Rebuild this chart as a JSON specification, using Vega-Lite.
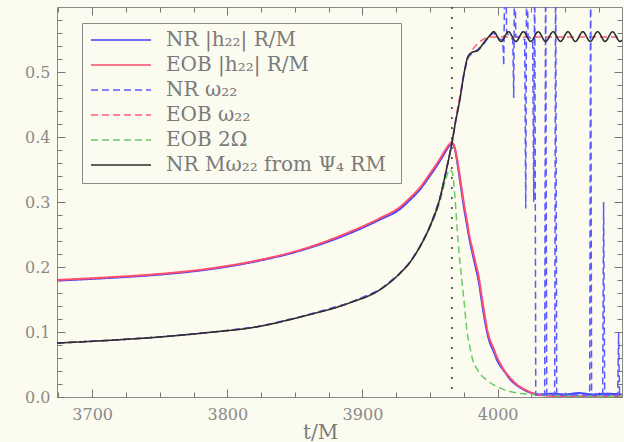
{
 "$schema": "https://vega.github.io/schema/vega-lite/v6.json",
 "width": 565, "height": 390,
 "autosize": {"type": "none"},
 "padding": {"left": 57, "top": 7, "right": 2, "bottom": 45},
 "background": "#fbfbef",
 "config": {
  "view": {"stroke": "#8a8a8a", "strokeWidth": 1},
  "font": "DejaVu Serif",
  "axis": {"domain": false, "ticks": false, "labelFont": "DejaVu Serif", "labelFontSize": 16, "labelColor": "#8a8a8a", "gridColor": "#777777", "gridWidth": 1, "gridOpacity": 1, "titleFont": "DejaVu Serif", "titleColor": "#7a7a7a", "titleFontWeight": "normal", "labelOverlap": false, "labelFlush": false}
 },
 "data": {"values": [
  {"series":"NR |h₂₂| R/M","t":3674.1,"v":0.179},{"series":"NR |h₂₂| R/M","t":3711.1,"v":0.183},{"series":"NR |h₂₂| R/M","t":3748,"v":0.188},{"series":"NR |h₂₂| R/M","t":3785,"v":0.196},{"series":"NR |h₂₂| R/M","t":3822,"v":0.209},{"series":"NR |h₂₂| R/M","t":3853.7,"v":0.225},{"series":"NR |h₂₂| R/M","t":3890.7,"v":0.252},{"series":"NR |h₂₂| R/M","t":3912.9,"v":0.273},{"series":"NR |h₂₂| R/M","t":3927.6,"v":0.289},{"series":"NR |h₂₂| R/M","t":3935,"v":0.303},{"series":"NR |h₂₂| R/M","t":3942.4,"v":0.319},{"series":"NR |h₂₂| R/M","t":3949.8,"v":0.34},{"series":"NR |h₂₂| R/M","t":3957.2,"v":0.363},{"series":"NR |h₂₂| R/M","t":3961.6,"v":0.378},{"series":"NR |h₂₂| R/M","t":3964,"v":0.386},{"series":"NR |h₂₂| R/M","t":3966.1,"v":0.39},{"series":"NR |h₂₂| R/M","t":3968.3,"v":0.382},{"series":"NR |h₂₂| R/M","t":3970.5,"v":0.356},{"series":"NR |h₂₂| R/M","t":3972.7,"v":0.325},{"series":"NR |h₂₂| R/M","t":3974.9,"v":0.294},{"series":"NR |h₂₂| R/M","t":3977.2,"v":0.266},{"series":"NR |h₂₂| R/M","t":3979.4,"v":0.24},{"series":"NR |h₂₂| R/M","t":3981.6,"v":0.219},{"series":"NR |h₂₂| R/M","t":3983.8,"v":0.199},{"series":"NR |h₂₂| R/M","t":3986,"v":0.178},{"series":"NR |h₂₂| R/M","t":3988.2,"v":0.148},{"series":"NR |h₂₂| R/M","t":3990.5,"v":0.118},{"series":"NR |h₂₂| R/M","t":3992.7,"v":0.095},{"series":"NR |h₂₂| R/M","t":3994.9,"v":0.08},{"series":"NR |h₂₂| R/M","t":3997.1,"v":0.07},{"series":"NR |h₂₂| R/M","t":3999.3,"v":0.058},{"series":"NR |h₂₂| R/M","t":4002.3,"v":0.047},{"series":"NR |h₂₂| R/M","t":4005.2,"v":0.039},{"series":"NR |h₂₂| R/M","t":4008.9,"v":0.028},{"series":"NR |h₂₂| R/M","t":4014.9,"v":0.017},{"series":"NR |h₂₂| R/M","t":4021.5,"v":0.009},{"series":"NR |h₂₂| R/M","t":4031.1,"v":0.004},{"series":"NR |h₂₂| R/M","t":4040,"v":0.005},{"series":"NR |h₂₂| R/M","t":4050,"v":0.004},{"series":"NR |h₂₂| R/M","t":4060,"v":0.006},{"series":"NR |h₂₂| R/M","t":4070,"v":0.004},{"series":"NR |h₂₂| R/M","t":4080,"v":0.005},{"series":"NR |h₂₂| R/M","t":4091.7,"v":0.004},

  {"series":"EOB |h₂₂| R/M","t":3674.1,"v":0.18},{"series":"EOB |h₂₂| R/M","t":3711.1,"v":0.184},{"series":"EOB |h₂₂| R/M","t":3748,"v":0.189},{"series":"EOB |h₂₂| R/M","t":3785,"v":0.197},{"series":"EOB |h₂₂| R/M","t":3822,"v":0.21},{"series":"EOB |h₂₂| R/M","t":3853.7,"v":0.226},{"series":"EOB |h₂₂| R/M","t":3890.7,"v":0.254},{"series":"EOB |h₂₂| R/M","t":3912.9,"v":0.275},{"series":"EOB |h₂₂| R/M","t":3927.6,"v":0.292},{"series":"EOB |h₂₂| R/M","t":3935,"v":0.306},{"series":"EOB |h₂₂| R/M","t":3942.4,"v":0.322},{"series":"EOB |h₂₂| R/M","t":3949.8,"v":0.343},{"series":"EOB |h₂₂| R/M","t":3957.2,"v":0.366},{"series":"EOB |h₂₂| R/M","t":3961.6,"v":0.381},{"series":"EOB |h₂₂| R/M","t":3964,"v":0.388},{"series":"EOB |h₂₂| R/M","t":3966.1,"v":0.392},{"series":"EOB |h₂₂| R/M","t":3968.3,"v":0.383},{"series":"EOB |h₂₂| R/M","t":3970.5,"v":0.36},{"series":"EOB |h₂₂| R/M","t":3972.7,"v":0.33},{"series":"EOB |h₂₂| R/M","t":3974.9,"v":0.3},{"series":"EOB |h₂₂| R/M","t":3977.2,"v":0.272},{"series":"EOB |h₂₂| R/M","t":3979.4,"v":0.245},{"series":"EOB |h₂₂| R/M","t":3981.6,"v":0.225},{"series":"EOB |h₂₂| R/M","t":3983.8,"v":0.205},{"series":"EOB |h₂₂| R/M","t":3986,"v":0.185},{"series":"EOB |h₂₂| R/M","t":3988.2,"v":0.155},{"series":"EOB |h₂₂| R/M","t":3990.5,"v":0.125},{"series":"EOB |h₂₂| R/M","t":3992.7,"v":0.1},{"series":"EOB |h₂₂| R/M","t":3994.9,"v":0.085},{"series":"EOB |h₂₂| R/M","t":3997.1,"v":0.074},{"series":"EOB |h₂₂| R/M","t":3999.3,"v":0.062},{"series":"EOB |h₂₂| R/M","t":4002.3,"v":0.05},{"series":"EOB |h₂₂| R/M","t":4005.2,"v":0.04},{"series":"EOB |h₂₂| R/M","t":4008.9,"v":0.03},{"series":"EOB |h₂₂| R/M","t":4014.9,"v":0.018},{"series":"EOB |h₂₂| R/M","t":4021.5,"v":0.01},{"series":"EOB |h₂₂| R/M","t":4031.1,"v":0.003},{"series":"EOB |h₂₂| R/M","t":4045.9,"v":0.0015},{"series":"EOB |h₂₂| R/M","t":4091.7,"v":0.001},

  {"series":"NR ω₂₂","t":3674.1,"v":0.083},{"series":"NR ω₂₂","t":3711.1,"v":0.087},{"series":"NR ω₂₂","t":3748,"v":0.092},{"series":"NR ω₂₂","t":3785,"v":0.099},{"series":"NR ω₂₂","t":3822,"v":0.108},{"series":"NR ω₂₂","t":3853.7,"v":0.123},{"series":"NR ω₂₂","t":3890.7,"v":0.145},{"series":"NR ω₂₂","t":3912.9,"v":0.165},{"series":"NR ω₂₂","t":3927.6,"v":0.19},{"series":"NR ω₂₂","t":3935,"v":0.207},{"series":"NR ω₂₂","t":3942.4,"v":0.231},{"series":"NR ω₂₂","t":3949.8,"v":0.262},{"series":"NR ω₂₂","t":3957.2,"v":0.305},{"series":"NR ω₂₂","t":3961.6,"v":0.345},{"series":"NR ω₂₂","t":3966.1,"v":0.39},{"series":"NR ω₂₂","t":3969,"v":0.425},{"series":"NR ω₂₂","t":3972,"v":0.457},{"series":"NR ω₂₂","t":3974.9,"v":0.495},{"series":"NR ω₂₂","t":3977.9,"v":0.523},{"series":"NR ω₂₂","t":3980.9,"v":0.528},{"series":"NR ω₂₂","t":3985.3,"v":0.535},{"series":"NR ω₂₂","t":3989.7,"v":0.543},{"series":"NR ω₂₂","t":3994.2,"v":0.556},{"series":"NR ω₂₂","t":3997,"v":0.56},{"series":"NR ω₂₂","t":4001.6,"v":0.55},{"series":"NR ω₂₂","t":4003.8,"v":0.55},{"series":"NR ω₂₂","t":4004.5,"v":0.51},{"series":"NR ω₂₂","t":4005.6,"v":0.7},{"series":"NR ω₂₂","t":4006.7,"v":0.56},{"series":"NR ω₂₂","t":4011.2,"v":0.55},{"series":"NR ω₂₂","t":4011.9,"v":0.46},{"series":"NR ω₂₂","t":4012.6,"v":0.7},{"series":"NR ω₂₂","t":4013.4,"v":0.555},{"series":"NR ω₂₂","t":4020,"v":0.55},{"series":"NR ω₂₂","t":4020.8,"v":0.29},{"series":"NR ω₂₂","t":4021.5,"v":0.7},{"series":"NR ω₂₂","t":4022.5,"v":0.555},{"series":"NR ω₂₂","t":4025.9,"v":0.55},{"series":"NR ω₂₂","t":4026.7,"v":0.3},{"series":"NR ω₂₂","t":4027.4,"v":0.7},{"series":"NR ω₂₂","t":4028.2,"v":0.003},{"series":"NR ω₂₂","t":4034.8,"v":0.003},{"series":"NR ω₂₂","t":4035.5,"v":0.7},{"series":"NR ω₂₂","t":4036.3,"v":0.003},{"series":"NR ω₂₂","t":4042.2,"v":0.003},{"series":"NR ω₂₂","t":4042.9,"v":0.7},{"series":"NR ω₂₂","t":4043.7,"v":0.003},{"series":"NR ω₂₂","t":4068.1,"v":0.003},{"series":"NR ω₂₂","t":4068.8,"v":0.7},{"series":"NR ω₂₂","t":4069.5,"v":0.003},{"series":"NR ω₂₂","t":4077.7,"v":0.003},{"series":"NR ω₂₂","t":4078.4,"v":0.3},{"series":"NR ω₂₂","t":4079.2,"v":0.003},{"series":"NR ω₂₂","t":4088.8,"v":0.003},{"series":"NR ω₂₂","t":4089.5,"v":0.1},{"series":"NR ω₂₂","t":4090.2,"v":0.003},{"series":"NR ω₂₂","t":4092,"v":0.003},

  {"series":"EOB ω₂₂","t":3674.1,"v":0.083},{"series":"EOB ω₂₂","t":3711.1,"v":0.087},{"series":"EOB ω₂₂","t":3748,"v":0.092},{"series":"EOB ω₂₂","t":3785,"v":0.099},{"series":"EOB ω₂₂","t":3822,"v":0.108},{"series":"EOB ω₂₂","t":3853.7,"v":0.123},{"series":"EOB ω₂₂","t":3890.7,"v":0.145},{"series":"EOB ω₂₂","t":3912.9,"v":0.165},{"series":"EOB ω₂₂","t":3927.6,"v":0.19},{"series":"EOB ω₂₂","t":3935,"v":0.207},{"series":"EOB ω₂₂","t":3942.4,"v":0.231},{"series":"EOB ω₂₂","t":3949.8,"v":0.262},{"series":"EOB ω₂₂","t":3957.2,"v":0.305},{"series":"EOB ω₂₂","t":3961.6,"v":0.345},{"series":"EOB ω₂₂","t":3966.1,"v":0.39},{"series":"EOB ω₂₂","t":3969,"v":0.428},{"series":"EOB ω₂₂","t":3972,"v":0.462},{"series":"EOB ω₂₂","t":3975,"v":0.497},{"series":"EOB ω₂₂","t":3978,"v":0.52},{"series":"EOB ω₂₂","t":3981,"v":0.533},{"series":"EOB ω₂₂","t":3985,"v":0.543},{"series":"EOB ω₂₂","t":3990,"v":0.551},{"series":"EOB ω₂₂","t":3995,"v":0.554},{"series":"EOB ω₂₂","t":4092,"v":0.554},

  {"series":"EOB 2Ω","t":3674.1,"v":0.083},{"series":"EOB 2Ω","t":3711.1,"v":0.087},{"series":"EOB 2Ω","t":3748,"v":0.092},{"series":"EOB 2Ω","t":3785,"v":0.099},{"series":"EOB 2Ω","t":3822,"v":0.108},{"series":"EOB 2Ω","t":3853.7,"v":0.123},{"series":"EOB 2Ω","t":3890.7,"v":0.145},{"series":"EOB 2Ω","t":3912.9,"v":0.165},{"series":"EOB 2Ω","t":3927.6,"v":0.19},{"series":"EOB 2Ω","t":3935,"v":0.207},{"series":"EOB 2Ω","t":3942.4,"v":0.23},{"series":"EOB 2Ω","t":3949.8,"v":0.26},{"series":"EOB 2Ω","t":3957.2,"v":0.3},{"series":"EOB 2Ω","t":3961.6,"v":0.335},{"series":"EOB 2Ω","t":3964.5,"v":0.35},{"series":"EOB 2Ω","t":3966.5,"v":0.345},{"series":"EOB 2Ω","t":3968.3,"v":0.31},{"series":"EOB 2Ω","t":3970.5,"v":0.246},{"series":"EOB 2Ω","t":3972,"v":0.21},{"series":"EOB 2Ω","t":3973.5,"v":0.18},{"series":"EOB 2Ω","t":3975.5,"v":0.14},{"series":"EOB 2Ω","t":3977.2,"v":0.103},{"series":"EOB 2Ω","t":3979.4,"v":0.078},{"series":"EOB 2Ω","t":3981.6,"v":0.057},{"series":"EOB 2Ω","t":3985,"v":0.042},{"series":"EOB 2Ω","t":3991.9,"v":0.026},{"series":"EOB 2Ω","t":4001.6,"v":0.014},{"series":"EOB 2Ω","t":4010,"v":0.008},{"series":"EOB 2Ω","t":4025,"v":0.004},{"series":"EOB 2Ω","t":4050,"v":0.002},{"series":"EOB 2Ω","t":4092,"v":0.001},

  {"series":"NR  Mω₂₂ from Ψ₄ RM","t":3674.1,"v":0.083},{"series":"NR  Mω₂₂ from Ψ₄ RM","t":3711.1,"v":0.087},{"series":"NR  Mω₂₂ from Ψ₄ RM","t":3748,"v":0.092},{"series":"NR  Mω₂₂ from Ψ₄ RM","t":3785,"v":0.099},{"series":"NR  Mω₂₂ from Ψ₄ RM","t":3822,"v":0.108},{"series":"NR  Mω₂₂ from Ψ₄ RM","t":3853.7,"v":0.123},{"series":"NR  Mω₂₂ from Ψ₄ RM","t":3890.7,"v":0.145},{"series":"NR  Mω₂₂ from Ψ₄ RM","t":3912.9,"v":0.165},{"series":"NR  Mω₂₂ from Ψ₄ RM","t":3927.6,"v":0.19},{"series":"NR  Mω₂₂ from Ψ₄ RM","t":3935,"v":0.207},{"series":"NR  Mω₂₂ from Ψ₄ RM","t":3942.4,"v":0.231},{"series":"NR  Mω₂₂ from Ψ₄ RM","t":3949.8,"v":0.262},{"series":"NR  Mω₂₂ from Ψ₄ RM","t":3957.2,"v":0.305},{"series":"NR  Mω₂₂ from Ψ₄ RM","t":3961.6,"v":0.345},{"series":"NR  Mω₂₂ from Ψ₄ RM","t":3966.1,"v":0.39},{"series":"NR  Mω₂₂ from Ψ₄ RM","t":3969,"v":0.425},{"series":"NR  Mω₂₂ from Ψ₄ RM","t":3972,"v":0.457},{"series":"NR  Mω₂₂ from Ψ₄ RM","t":3974.9,"v":0.495},{"series":"NR  Mω₂₂ from Ψ₄ RM","t":3977.9,"v":0.523},{"series":"NR  Mω₂₂ from Ψ₄ RM","t":3980.9,"v":0.53},{"series":"NR  Mω₂₂ from Ψ₄ RM","t":3985.3,"v":0.533},{"series":"NR  Mω₂₂ from Ψ₄ RM","t":3989.7,"v":0.545},{"series":"NR  Mω₂₂ from Ψ₄ RM","t":3994.2,"v":0.556},{"series":"NR  Mω₂₂ from Ψ₄ RM","t":3997,"v":0.562},{"series":"NR  Mω₂₂ from Ψ₄ RM","t":4002.5,"v":0.547},{"series":"NR  Mω₂₂ from Ψ₄ RM","t":4008,"v":0.562},{"series":"NR  Mω₂₂ from Ψ₄ RM","t":4013.5,"v":0.547},{"series":"NR  Mω₂₂ from Ψ₄ RM","t":4019,"v":0.562},{"series":"NR  Mω₂₂ from Ψ₄ RM","t":4024.5,"v":0.547},{"series":"NR  Mω₂₂ from Ψ₄ RM","t":4030,"v":0.562},{"series":"NR  Mω₂₂ from Ψ₄ RM","t":4035.5,"v":0.547},{"series":"NR  Mω₂₂ from Ψ₄ RM","t":4041,"v":0.562},{"series":"NR  Mω₂₂ from Ψ₄ RM","t":4046.5,"v":0.547},{"series":"NR  Mω₂₂ from Ψ₄ RM","t":4052,"v":0.562},{"series":"NR  Mω₂₂ from Ψ₄ RM","t":4057.5,"v":0.547},{"series":"NR  Mω₂₂ from Ψ₄ RM","t":4063,"v":0.562},{"series":"NR  Mω₂₂ from Ψ₄ RM","t":4068.5,"v":0.547},{"series":"NR  Mω₂₂ from Ψ₄ RM","t":4074,"v":0.562},{"series":"NR  Mω₂₂ from Ψ₄ RM","t":4079.5,"v":0.547},{"series":"NR  Mω₂₂ from Ψ₄ RM","t":4085,"v":0.562},{"series":"NR  Mω₂₂ from Ψ₄ RM","t":4090.5,"v":0.547},{"series":"NR  Mω₂₂ from Ψ₄ RM","t":4092,"v":0.549}
 ]},
 "layer": [
  {
   "transform": [{"filter": {"field": "series", "equal": "NR |h₂₂| R/M"}}],
   "mark": {"type": "line", "strokeWidth": 2, "clip": true, "interpolate": "monotone"},
   "encoding": {
    "x": {"field": "t", "type": "quantitative", "scale": {"domain": [3674, 4092], "nice": false, "zero": false},
     "axis": {"orient": "bottom", "values": [3700, 3800, 3900, 4000], "format": "d", "grid": true, "gridDash": [8, 374, 8, 1000], "labelPadding": 9, "title": "t/M", "titleFontSize": 20, "titlePadding": 0, "titleX": 263}},
    "y": {"field": "v", "type": "quantitative", "scale": {"domain": [0, 0.6], "nice": false, "zero": false},
     "axis": {"orient": "left", "values": [0, 0.1, 0.2, 0.3, 0.4, 0.5], "format": ".1f", "grid": true, "gridDash": [8, 549, 8, 1000], "labelPadding": 7, "title": null}},
    "color": {"field": "series", "type": "nominal",
     "scale": {"domain": ["NR |h₂₂| R/M", "EOB |h₂₂| R/M", "NR ω₂₂", "EOB ω₂₂", "EOB 2Ω", "NR  Mω₂₂ from Ψ₄ RM"], "range": ["#4040ff", "#ff4d6d", "#5a5aff", "#ff5a78", "#66cc66", "#2e2e2e"]},
     "legend": {"orient": "none", "legendX": 25, "legendY": 16, "title": null, "strokeColor": "#8a8a8a", "fillColor": "#fbfbef", "padding": 8, "symbolType": "stroke", "symbolSize": 3600, "symbolStrokeWidth": 1.5, "labelFont": "DejaVu Serif", "labelFontSize": 20, "labelColor": "#7a7a7a", "labelLimit": 400, "rowPadding": 5, "clipHeight": 18, "labelOffset": 14}},
    "strokeDash": {"field": "series", "type": "nominal",
     "scale": {"domain": ["NR |h₂₂| R/M", "EOB |h₂₂| R/M", "NR ω₂₂", "EOB ω₂₂", "EOB 2Ω", "NR  Mω₂₂ from Ψ₄ RM"], "range": [[1,0],[1,0],[7,4],[7,4],[7,4],[1,0]]},
     "legend": {"orient": "none", "legendX": 25, "legendY": 16, "title": null, "strokeColor": "#8a8a8a", "fillColor": "#fbfbef", "padding": 8, "symbolType": "stroke", "symbolSize": 3600, "symbolStrokeWidth": 1.5, "labelFont": "DejaVu Serif", "labelFontSize": 20, "labelColor": "#7a7a7a", "labelLimit": 400, "rowPadding": 5, "clipHeight": 18, "labelOffset": 14}}
   }
  },
  {
   "transform": [{"filter": {"field": "series", "equal": "EOB |h₂₂| R/M"}}],
   "mark": {"type": "line", "strokeWidth": 2, "clip": true, "interpolate": "monotone"},
   "encoding": {
    "x": {"field": "t", "type": "quantitative",
     "axis": {"orient": "top", "values": [3675,3725,3750,3775,3825,3850,3875,3925,3950,3975,4025,4050,4075], "labels": false, "grid": true, "gridDash": [5, 380, 5, 1000], "title": null}},
    "y": {"field": "v", "type": "quantitative",
     "axis": {"orient": "right", "values": [0.02,0.04,0.06,0.08,0.12,0.14,0.16,0.18,0.22,0.24,0.26,0.28,0.32,0.34,0.36,0.38,0.42,0.44,0.46,0.48,0.52,0.54,0.56,0.58], "labels": false, "grid": true, "gridDash": [5, 555, 5, 1000], "title": null}},
    "color": {"field": "series", "type": "nominal"},
    "strokeDash": {"field": "series", "type": "nominal"}
   }
  },
  {
   "transform": [{"filter": {"field": "series", "equal": "EOB 2Ω"}}],
   "mark": {"type": "line", "strokeWidth": 1.5, "clip": true, "interpolate": "monotone"},
   "encoding": {
    "x": {"field": "t", "type": "quantitative", "axis": null},
    "y": {"field": "v", "type": "quantitative", "axis": null},
    "color": {"field": "series", "type": "nominal"},
    "strokeDash": {"field": "series", "type": "nominal"}
   }
  },
  {
   "transform": [{"filter": {"field": "series", "equal": "EOB ω₂₂"}}],
   "mark": {"type": "line", "strokeWidth": 1.5, "clip": true, "interpolate": "monotone"},
   "encoding": {
    "x": {"field": "t", "type": "quantitative", "axis": null},
    "y": {"field": "v", "type": "quantitative", "axis": null},
    "color": {"field": "series", "type": "nominal"},
    "strokeDash": {"field": "series", "type": "nominal"}
   }
  },
  {
   "transform": [{"filter": {"field": "series", "equal": "NR ω₂₂"}}],
   "mark": {"type": "line", "strokeWidth": 1.5, "clip": true},
   "encoding": {
    "x": {"field": "t", "type": "quantitative", "axis": null},
    "y": {"field": "v", "type": "quantitative", "axis": null},
    "color": {"field": "series", "type": "nominal"},
    "strokeDash": {"field": "series", "type": "nominal"}
   }
  },
  {
   "transform": [{"filter": {"field": "series", "equal": "NR  Mω₂₂ from Ψ₄ RM"}}],
   "mark": {"type": "line", "strokeWidth": 1.6, "clip": true, "interpolate": "monotone"},
   "encoding": {
    "x": {"field": "t", "type": "quantitative", "axis": null},
    "y": {"field": "v", "type": "quantitative", "axis": null},
    "color": {"field": "series", "type": "nominal"},
    "strokeDash": {"field": "series", "type": "nominal"}
   }
  },
  {
   "data": {"values": [{"t": 3966.1}]},
   "mark": {"type": "rule", "strokeDash": [2, 8], "color": "#444444", "strokeWidth": 1.6},
   "encoding": {
    "x": {"field": "t", "type": "quantitative", "axis": null}
   }
  }
 ],
 "resolve": {"axis": {"x": "independent", "y": "independent"}}
}
